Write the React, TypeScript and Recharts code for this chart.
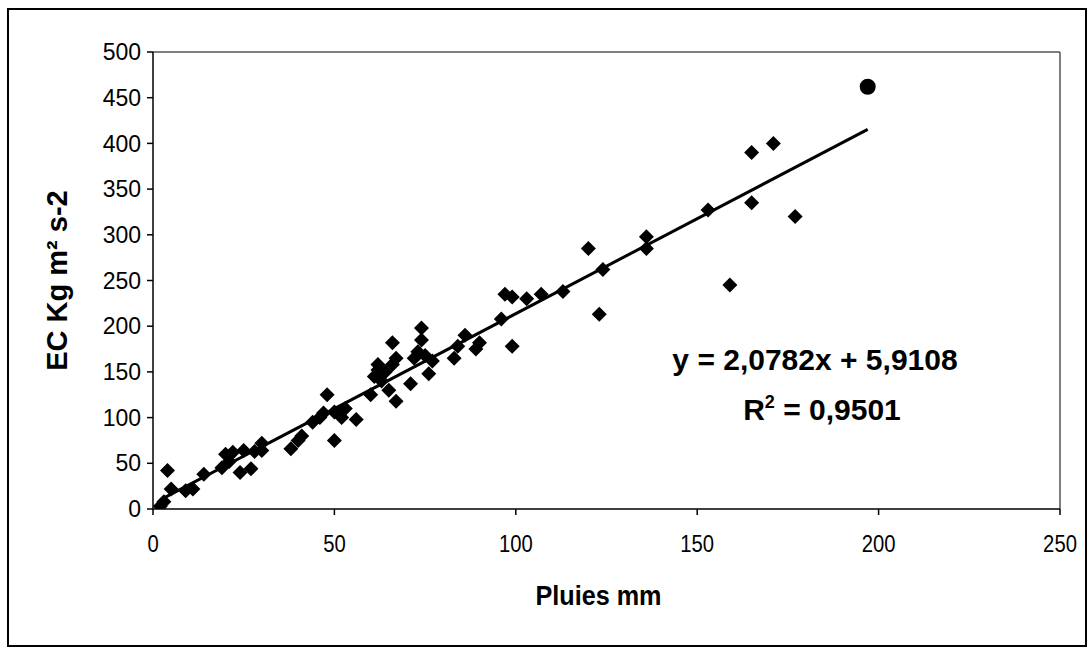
import React from 'react';
import { ScatterChart, Scatter, XAxis, YAxis, ReferenceLine } from 'recharts';

// rainfall (mm) and kinetic energy (EC) per event
const rainMm = [
  2, 3, 4, 5, 9, 11, 14, 19, 20, 21, 22, 24, 25, 27, 28, 30, 30,
  38, 40, 41, 44, 46, 47, 48, 50, 50, 52, 53, 56,
  60, 61, 62, 62, 63, 64, 65, 66, 66, 67, 67,
  71, 72, 73, 74, 74, 75, 76, 77,
  83, 84, 86, 89, 90, 96, 97, 99, 99, 103, 107, 113,
  120, 123, 124, 136, 136, 153, 159, 165, 165, 171, 177,
];
const ecValues = [
  3, 8, 42, 22, 20, 22, 38, 45, 60, 52, 62, 40, 64, 44, 63, 64, 72,
  66, 75, 80, 95, 100, 105, 125, 106, 75, 100, 110, 98,
  125, 145, 158, 152, 140, 150, 130, 182, 158, 165, 118,
  137, 165, 172, 185, 198, 168, 148, 162,
  165, 178, 190, 175, 182, 208, 235, 232, 178, 230, 235, 238,
  285, 213, 262, 298, 285, 327, 245, 390, 335, 400, 320,
];
const outlierRain = [197];
const outlierEc = [462];

const xTicks = [0, 50, 100, 150, 200, 250];
const yTicks = [0, 50, 100, 150, 200, 250, 300, 350, 400, 450, 500];

const slope = 2.0782;
const intercept = 5.9108;

const points = rainMm.map((x, i) => ({ x, y: ecValues[i] }));
const bigPoint = outlierRain.map((x, i) => ({ x, y: outlierEc[i] }));
const allX = [...rainMm, ...outlierRain];
const trend = [Math.min(...allX), Math.max(...allX)].map(x => ({ x, y: slope * x + intercept }));

const font = '"Liberation Sans", Arial, sans-serif';

const Diamond = (props: any) => {
  const { cx, cy } = props;
  const r = 7.5;
  return (
    <polygon
      points={`${cx},${cy - r} ${cx + r},${cy} ${cx},${cy + r} ${cx - r},${cy}`}
      fill="#000"
    />
  );
};

const Dot = (props: any) => <circle cx={props.cx} cy={props.cy} r={8} fill="#000" />;

const NoShape = () => <g />;

// x tick labels look a bit condensed in the scan
const XTick = (props: any) => {
  const { x, y, payload } = props;
  return (
    <text
      transform={`translate(${x}, ${y}) scale(0.88, 1)`}
      textAnchor="middle"
      dy="0.71em"
      fontFamily={font}
      fontSize={23}
      fill="#000"
    >
      {payload.value}
    </text>
  );
};

const YTitle = (props: any) => {
  const vb = props.viewBox;
  const cy = vb.y + vb.height / 2;
  return (
    <text
      x={57}
      y={cy}
      transform={`rotate(-90, 57, ${cy})`}
      textAnchor="middle"
      dominantBaseline="central"
      fontFamily={font}
      fontWeight="bold"
      fontSize={29}
      fill="#000"
    >
      EC Kg m² s-2
    </text>
  );
};

const XTitle = (props: any) => {
  const vb = props.viewBox;
  const cx = vb.x + vb.width / 2 - 8;
  return (
    <text
      transform={`translate(${cx}, 596) scale(0.9, 1)`}
      textAnchor="middle"
      dominantBaseline="central"
      fontFamily={font}
      fontWeight="bold"
      fontSize={28}
      fill="#000"
    >
      Pluies mm
    </text>
  );
};

export default function App() {
  return (
    <div style={{ position: 'absolute', left: 0, top: 0, width: 1092, height: 652, background: '#fff' }}>
      <div
        style={{
          position: 'absolute', left: 7, top: 8, width: 1080, height: 639,
          border: '2px solid #000', boxSizing: 'border-box',
        }}
      />
      <div style={{ position: 'absolute', left: 0, top: 0 }}>
        <ScatterChart width={1092} height={652} margin={{ top: 52, right: 32, left: 20, bottom: 83 }}>
          <XAxis
            type="number"
            dataKey="x"
            domain={[0, 250]}
            ticks={xTicks}
            allowDataOverflow
            height={60}
            tickSize={6}
            tickMargin={21}
            stroke="#000"
            strokeWidth={1.5}
            tick={<XTick />}
            label={{ content: XTitle }}
          />
          <YAxis
            type="number"
            dataKey="y"
            domain={[0, 500]}
            ticks={yTicks}
            allowDataOverflow
            width={133}
            tickSize={6}
            tickMargin={6}
            stroke="#000"
            strokeWidth={1.5}
            tick={{ fill: '#000', fontSize: 23, fontFamily: font }}
            label={{ content: YTitle }}
          />
          <ReferenceLine y={500} stroke="#555" strokeWidth={1.5} />
          <ReferenceLine x={250} stroke="#555" strokeWidth={1.5} />
          <Scatter data={points} shape={Diamond} isAnimationActive={false} />
          <Scatter data={bigPoint} shape={Dot} isAnimationActive={false} />
          <Scatter
            data={trend}
            line={{ stroke: '#000', strokeWidth: 3 }}
            shape={NoShape}
            isAnimationActive={false}
          />
        </ScatterChart>
      </div>
      <div
        style={{
          position: 'absolute', left: 615, top: 341, width: 400, textAlign: 'center',
          fontFamily: font, fontWeight: 'bold', fontSize: 30, lineHeight: '38px', color: '#000',
        }}
      >
        <div>y = 2,0782x + 5,9108</div>
        <div style={{ marginTop: 12, paddingLeft: 14 }}>
          R<sup style={{ fontSize: 18, verticalAlign: 'top', lineHeight: '22px' }}>2</sup> = 0,9501
        </div>
      </div>
    </div>
  );
}
